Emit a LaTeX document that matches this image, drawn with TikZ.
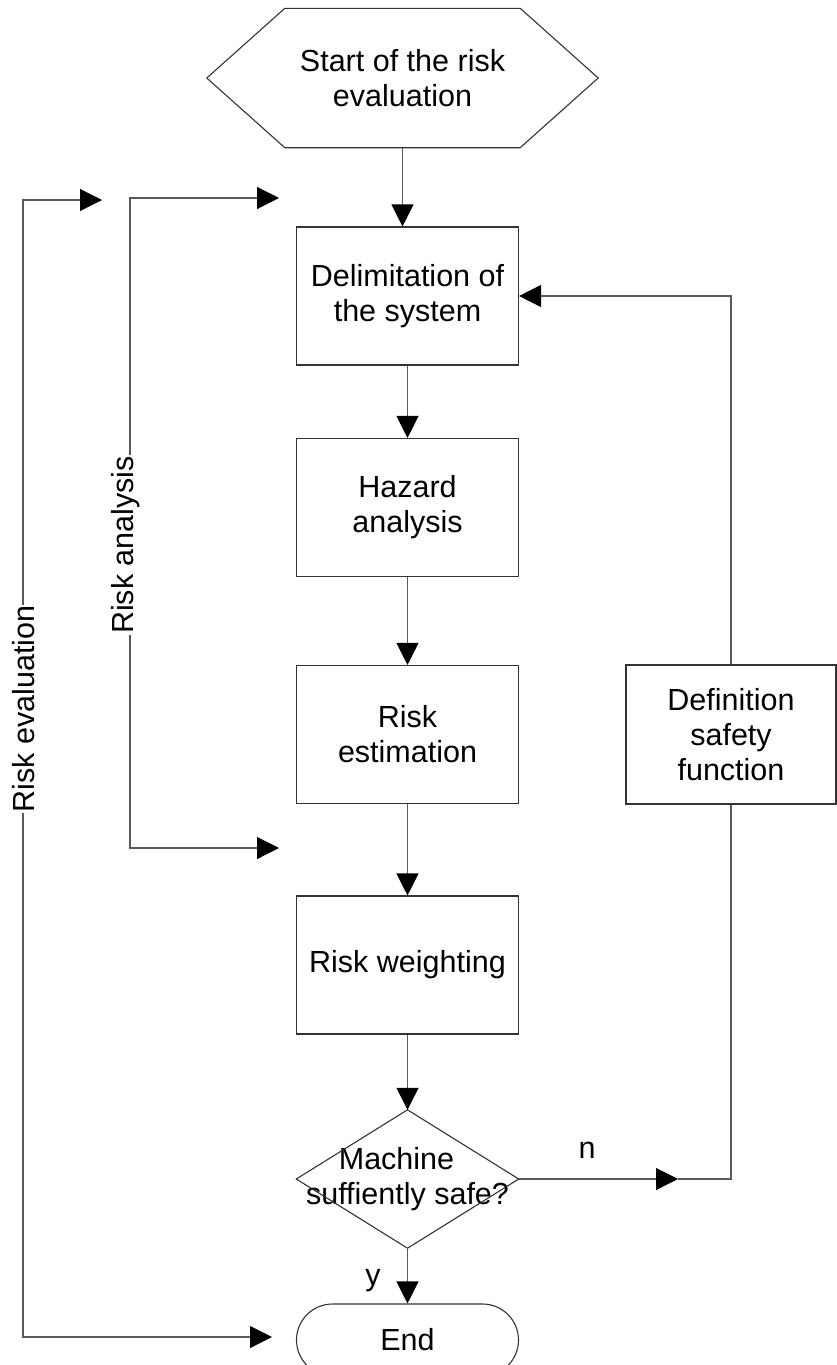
\documentclass[tikz,border=0pt]{standalone}
\usepackage{fontspec}
\setmainfont{Liberation Sans}
\usetikzlibrary{arrows.meta,shapes.misc,calc}
\begin{document}
\begin{tikzpicture}[x=1pt,y=-1pt,
  every node/.style={font=\fontsize{30.5}{35}\selectfont, align=center, inner sep=0pt},
  shapeline/.style={draw=black!80, line width=1.1pt},
  box/.style={shapeline, minimum width=222pt, minimum height=138pt, fill=white},
  conn/.style={draw=black!65, line width=1.1pt},
  arr/.style={conn, -{Triangle[length=22pt,width=22pt,color=black]}},
  darr/.style={conn, {Triangle[length=22pt,width=22pt,color=black]}-{Triangle[length=22pt,width=22pt,color=black]}},
  vlabel/.style={rotate=90, fill=white, inner xsep=1pt, inner ysep=0pt}
]
\path[use as bounding box, clip] (0,0) rectangle (837,1365);

% start hexagon
\node (start) at (402.5,78) [minimum width=235pt, minimum height=139pt] {Start of the risk\\evaluation};
\draw[shapeline] (start.north west) -- (start.north east) -- ($(start.east)+(78,0)$)
  -- (start.south east) -- (start.south west) -- ($(start.west)+(-78,0)$) -- cycle;

% process boxes
\node[box] (delim)  at (407.5,296)   {Delimitation of\\the system};
\node[box] (hazard) at (407.5,507.5) {Hazard\\analysis};
\node[box] (estim)  at (407.5,734.5) {Risk\\estimation};
\node[box] (weight) at (407.5,965)   {Risk weighting};
\node[box, minimum width=210pt, minimum height=139pt] (def) at (731,734.5) {Definition\\safety\\function};

% decision
\node (dec) at (407.5,1179) [minimum width=222pt, minimum height=138pt] {Machine\hspace*{22pt}\\suffiently safe?};
\draw[shapeline] (dec.north) -- (dec.east) -- (dec.south) -- (dec.west) -- cycle;

% end
\node[shapeline, rounded rectangle, minimum width=222pt, minimum height=72pt] (end) at (407.5,1340) {End};

% main flow
\draw[arr] (start.south) -- (start.south |- delim.north);
\draw[arr] (delim) -- (hazard);
\draw[arr] (hazard) -- (estim);
\draw[arr] (estim) -- (weight);
\draw[arr] (weight) -- (dec.north);
\draw[arr] (dec.south) -- (end.north);

% no branch and feedback
\coordinate (ntip) at (678,1179);
\draw[arr] (dec.east) -- (ntip);
\draw[conn] (ntip) -| (def.south);
\draw[arr] (def.north) |- (delim.east);
\node[anchor=base] (nlab) at (587,1158) {n};
\node[anchor=base] (ylab) at (373,1285) {y};

% risk evaluation bracket
\coordinate (evtip) at (102,200);
\coordinate (evtop) at (23,200);
\coordinate (evbot) at (23,1337);
\coordinate (evend) at (272,1337);
\draw[darr] (evtip) -- (evtop) -- (evbot) -- (evend);
\node[vlabel] (evlab) at (24,709) {Risk evaluation};

% risk analysis bracket
\coordinate (antip) at (279,198);
\coordinate (antop) at (130,198);
\coordinate (anbot) at (130,848);
\coordinate (anend) at (279,848);
\draw[darr] (antip) -- (antop) -- (anbot) -- (anend);
\node[vlabel] (anlab) at (126,545) {Risk analysis};
\end{tikzpicture}
\end{document}
